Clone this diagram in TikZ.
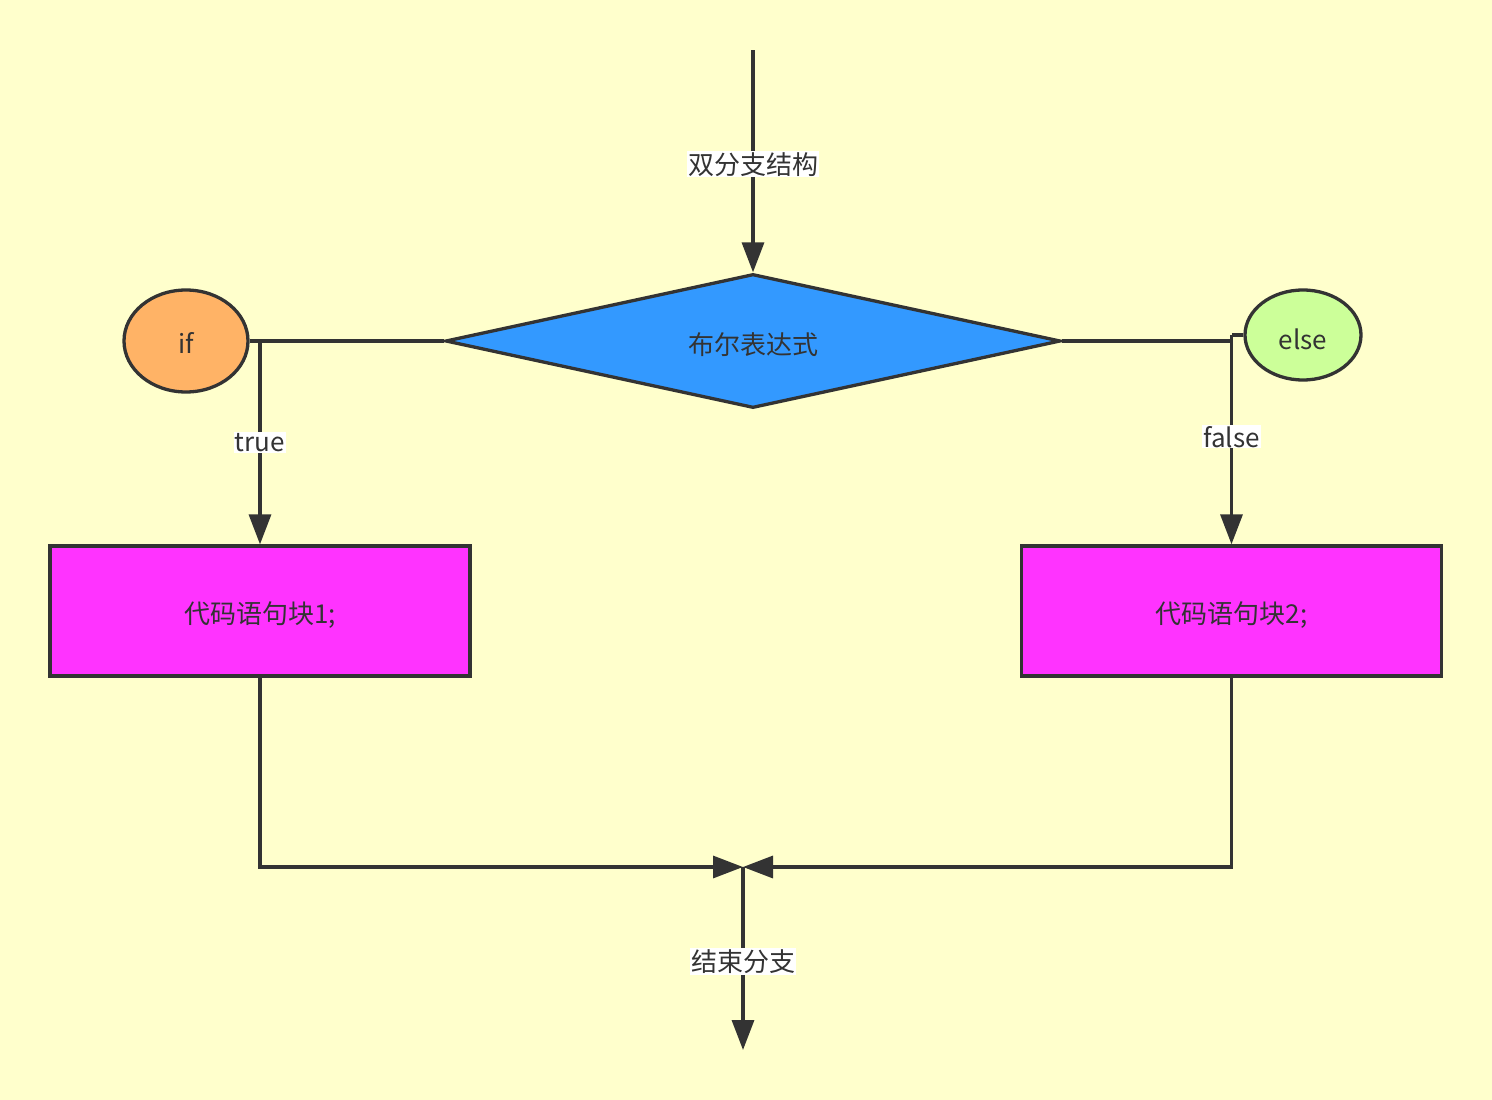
\documentclass[tikz,border=0pt]{standalone}
\usepackage{fontspec}
\setmainfont{Noto Sans CJK SC}
\usetikzlibrary{shapes.geometric,arrows.meta}
\definecolor{bgc}{HTML}{FFFFCC}
\definecolor{ln}{HTML}{333333}
\definecolor{dia}{HTML}{3399FF}
\definecolor{ifc}{HTML}{FFB366}
\definecolor{elsec}{HTML}{CCFF99}
\definecolor{boxc}{HTML}{FF33FF}
\newcommand{\dn}[2][4pt]{\raisebox{-#1}[\height][\depth]{#2}}
\tikzset{
  conn/.style={draw=ln, line width=3.3pt},
  arr/.style={conn, -{Triangle[length=30pt,width=22pt]}},
  lbl/.style={fill=white, text=ln, inner sep=1pt, yshift=-3pt, font=\fontsize{26}{30}\selectfont},
  txt/.style={text=ln, font=\fontsize{26}{30}\selectfont},
  codebox/.style={draw=ln, line width=3.3pt, fill=boxc, minimum width=420pt, minimum height=130pt, inner sep=0pt, txt},
}
\begin{document}
\begin{tikzpicture}[x=1pt,y=-1pt]
\fill[bgc] (0,0) rectangle (1492,1100);
\useasboundingbox (0,0) rectangle (1492,1100);
\node[diamond, draw=ln, line width=3.3pt, fill=dia, minimum width=615pt, minimum height=134pt, inner sep=0pt, aspect=4.59, txt] (d) at (753,341) {\dn{布尔表达式}};
\node[ellipse, draw=ln, line width=3.3pt, fill=ifc, minimum width=124pt, minimum height=102pt, inner sep=0pt, txt] (if) at (186,341) {\dn[2pt]{if}};
\node[ellipse, draw=ln, line width=3.3pt, fill=elsec, minimum width=116pt, minimum height=90pt, inner sep=0pt, txt] (else) at (1303,335) {\dn{else}};
\node[codebox] (b1) at (260,611) {\dn{代码语句块1;}};
\node[codebox] (b2) at (1231.5,611) {\dn{代码语句块2;}};
\coordinate (start) at (753,50);
\coordinate (m) at (743,867);
\coordinate (end) at (743,1050);
\draw[arr] (start) -- node[lbl] {双分支结构} (d.north);
\draw[conn] (d.west) -- (if.east);
\draw[arr] (b1.north |- d.west) -- node[lbl, yshift=3pt] {true} (b1.north);
\draw[conn] (d.east) -- (b2.north |- d.east);
\draw[conn] (else.west) -- (b2.north |- else.west);
\draw[arr] (b2.north |- else.west) -- node[lbl, yshift=6pt] {false} (b2.north);
\draw[arr] (b1.south) |- (m);
\draw[arr] (b2.south) |- (m);
\draw[arr] (m) -- node[lbl] {结束分支} (end);
\end{tikzpicture}
\end{document}
